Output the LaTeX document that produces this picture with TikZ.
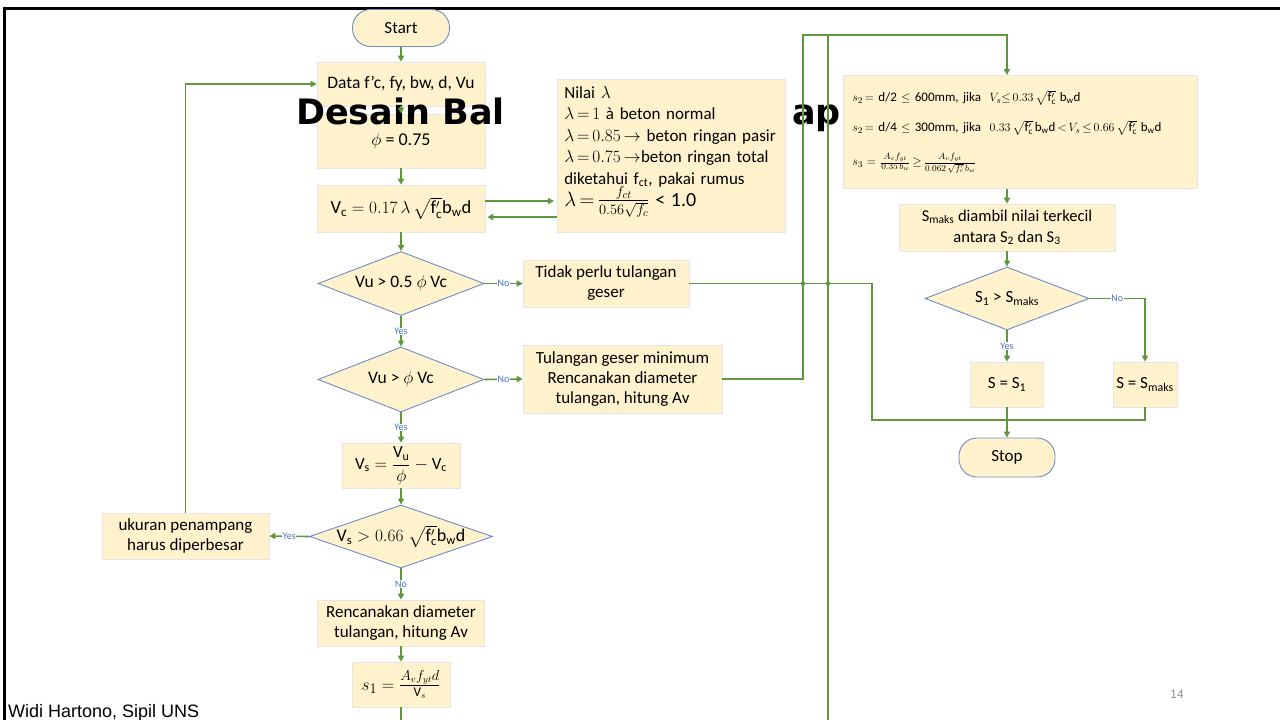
\documentclass[tikz,border=0pt]{standalone}
\usepackage{amsmath}
\usepackage{fontspec}
\setmainfont{Carlito}
\newfontfamily\arialf{Liberation Sans}
\newfontfamily\titlef{DejaVu Sans}
\usetikzlibrary{shapes.geometric,arrows.meta}
\definecolor{beige}{RGB}{255,242,204}
\definecolor{grn}{RGB}{96,150,60}
\definecolor{bdr}{RGB}{110,140,200}
\definecolor{lblue}{RGB}{68,114,196}
\newcommand\fsz[2]{\fontsize{#1}{#2}\selectfont}
\newcommand\fc{\sqrt{\mathrm{f}'_{\mathrm{c}}}}
\newcommand\tightmath{\medmuskip=2mu\thickmuskip=3mu}
\begin{document}
\begin{tikzpicture}[x=1pt,y=-1pt,
 box/.style={fill=beige, draw=black!10, line width=0.6pt, inner sep=0pt, align=center, font=\fsz{17}{20}},
 dia/.style={diamond, fill=beige, draw=bdr, line width=0.9pt, inner sep=0pt, shape aspect=2.6, font=\fsz{17}{20}},
 term/.style={fill=beige, draw=bdr, line width=0.9pt, rounded corners=18pt, inner sep=0pt, font=\fsz{17}{20}},
 arr/.style={draw=grn, line width=1.6pt, -{Triangle[length=6pt,width=6pt]}},
 ln/.style={draw=grn, line width=1.6pt},
 yn/.style={font=\fsz{10}{12}, text=lblue, fill=white, inner sep=0.5pt},
 ttl/.style={inner sep=0pt, font=\titlef\bfseries\fsz{35}{40}},
]
\useasboundingbox (0,0) rectangle (1280,720);
\fill[white] (0,0) rectangle (1280,720);
\draw[line width=3pt] (4,720) -- (4,8) -- (1280,8);

% left column
\node[term, minimum width=97, minimum height=37] (start) at (401,28) {Start};
\node[box, minimum width=168, minimum height=44, font=\fsz{17.5}{20}] (data) at (401,84) {Data f’c, fy, bw, d, Vu};
\node[box, minimum width=168, minimum height=54, font=\fsz{18}{20}] (phi) at (401,141) {$\phi$ = 0.75};
\node[box, minimum width=168, minimum height=47, font=\fsz{18.5}{20}] (vc) at (401,208.5) {$\mathrm{V_c} = 0.17\,\lambda\,\fc\mathrm{b_w d}$};
\node[dia, minimum width=166, minimum height=64, font=\fsz{17.5}{20}] (d1) at (401,283.5) {Vu > 0.5 $\phi$ Vc};
\node[dia, minimum width=166, minimum height=65, font=\fsz{17.5}{20}] (d2) at (401,379.5) {Vu > $\phi$ Vc};
\node[box, minimum width=118, minimum height=45, font=\fsz{17}{18}] (vs) at (401,465.5) {$\mathrm{V_s} = \dfrac{\mathrm{V_u}}{\phi} - \mathrm{V_c}$};
\node[dia, minimum width=183, minimum height=63, label={[font=\fsz{18}{20}, inner sep=0pt]center:$\mathrm{V_s} > 0.66\;\fc\mathrm{b_w d}$}] (d3) at (401,536.5) {};
\node[box, minimum width=167, minimum height=46] (renc) at (401,623) {Rencanakan diameter\\tulangan, hitung Av};
\node[box, minimum width=98, minimum height=45, font=\fsz{19}{20}] (s1) at (401,684.5) {$s_1 = \frac{A_v f_{yt} d}{\mathrm{V}_s}$};
\node[box, minimum width=167, minimum height=46] (ukuran) at (185.5,536) {ukuran penampang\\harus diperbesar};

% title (partly hidden)
\node[ttl, anchor=base west] (title1) at (296,124) {Desain Bal};
\node[ttl, anchor=base east] (title2) at (841,124) {ap};

% middle
\node[box, minimum width=228, minimum height=153, anchor=north west, align=left, text width=214, inner xsep=7pt, inner ysep=3pt, font=\fsz{17}{21.5}\tightmath] (lam) at (557,79) {\mbox{Nilai $\lambda$}\\
\mbox{$\lambda = 1$ à beton normal}\\
\mbox{$\lambda = 0.85 \rightarrow$ beton ringan pasir}\\
\mbox{$\lambda = 0.75 \rightarrow$beton ringan total}\\
\mbox{diketahui f\textsubscript{ct}, pakai rumus}\\[-1pt]
\mbox{{\fsz{21}{22}$\lambda = \frac{f_{ct}}{0.56\sqrt{f_c}}$} {\fsz{20}{22}< 1.0}}\\[-2pt]\mbox{}};
\node[box, minimum width=166, minimum height=47] (tidak) at (606,283.5) {Tidak perlu tulangan\\geser};
\node[box, minimum width=199, minimum height=68] (tmin) at (622.5,379) {Tulangan geser minimum\\Rencanakan diameter\\tulangan, hitung Av};

% right column
\node[box, minimum width=354, minimum height=113, anchor=north west, align=left, text width=336, inner xsep=9pt, font=\fsz{13}{30}\tightmath] (s2) at (843,75) {\mbox{$s_2 = $ d/2 $\le$ 600mm, jika \ $V_s{\le}\,0.33\;\fc\;\,\mathrm{b_wd}$}\\
\mbox{$s_2 = $ d/4 $\le$ 300mm, jika \ $0.33\,\fc\;\mathrm{b_wd} < V_s \le 0.66\,\fc\;\;\mathrm{b_wd}$}\\[4pt]
\mbox{$s_3 \,=\, \frac{A_vf_{yt}}{0.35\,b_w} \ge \frac{A_vf_{yt}}{0.062\,\sqrt{f_c'}\,b_w}$}};
\node[box, minimum width=216, minimum height=47, font=\fsz{16.5}{21}] (smaks) at (1007,227.5) {S\textsubscript{maks} diambil nilai terkecil\\antara S\textsubscript{2} dan S\textsubscript{3}};
\node[dia, minimum width=164, minimum height=63] (d4) at (1007,298.5) {S\textsubscript{1} > S\textsubscript{maks}};
\node[box, minimum width=73, minimum height=45] (ss1) at (1007,384.5) {S = S\textsubscript{1}};
\node[box, minimum width=64, minimum height=45] (ssm) at (1145,384.5) {S = S\textsubscript{maks}};
\node[term, minimum width=96, minimum height=39] (stop) at (1007,457.5) {Stop};

\node[anchor=base west, inner sep=0pt, font=\arialf\fsz{18}{20}] (foot) at (8,717) {Widi Hartono, Sipil UNS};
\node[inner sep=0pt, font=\arialf\fsz{12}{14}, text=black!45] (pg) at (1177,694) {14};

\coordinate (ctop) at (803,35);
\coordinate (cr) at (828,720);
\coordinate (j1) at (872,420);
\coordinate (s1end) at (401,720);

% connectors
\draw[arr] (start.south) -- (data.north);
\draw[arr] (data.south) -- (phi.north);
\draw[arr] (phi.south) -- (vc.north);
\path ([yshift=7.5pt]vc.east) coordinate (va) ([yshift=-8.5pt]vc.east) coordinate (vb);
\draw[arr, shorten >=3pt] (va) -- (va -| lam.west);
\draw[arr, shorten >=2pt] (vb -| lam.west) -- (vb);
\draw[arr] (vc.south) -- (d1.north);
\draw[arr] (d1.east) -- node[yn]{No} (tidak.west);
\draw[arr] (d1.south) -- node[yn]{Yes} (d2.north);
\draw[arr] (d2.east) -- node[yn]{No} (tmin.west);
\draw[arr] (d2.south) -- node[yn]{Yes} (vs.north);
\draw[arr] (vs.south) -- (d3.north);
\draw[arr] (d3.west) -- node[yn]{Yes} (ukuran.east);
\draw[arr] (d3.south) -- node[yn]{No} (renc.north);
\draw[arr] (renc.south) -- (s1.north);
\draw[ln] (s1.south) -- (s1end);
\draw[arr] (ukuran.north) |- (data.west);
\draw[ln] (tidak.east) -| (j1) -- (j1 -| stop.north);
\draw[arr] (tmin.east) -| (ctop) -| (s2.north -| smaks.north);
\draw[ln] (cr) -- (cr |- ctop);
\fill[grn] (ctop |- tidak.east) circle (2.2) (cr |- tidak.east) circle (2.2);
\draw[arr] (s2.south -| smaks.north) -- (smaks.north);
\draw[arr] (smaks.south) -- (d4.north);
\draw[arr] (d4.south) -- node[yn]{Yes} (ss1.north);
\draw[arr] (d4.east) -| node[yn,pos=0.25]{No} (ssm.north);
\draw[arr] (ss1.south) -- (stop.north);
\draw[ln] (ssm.south) |- (j1 -| stop.north);
\end{tikzpicture}
\end{document}
